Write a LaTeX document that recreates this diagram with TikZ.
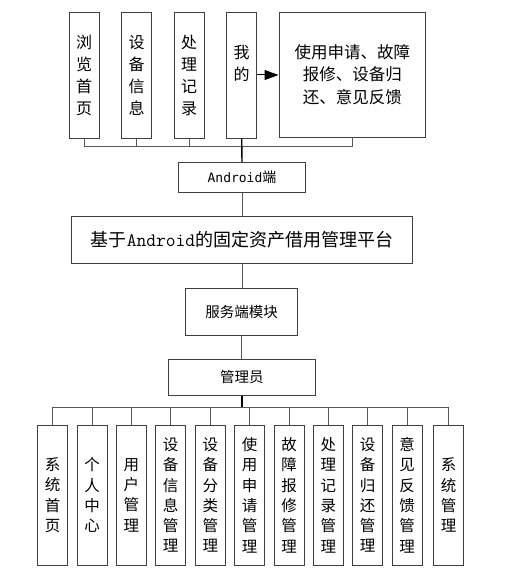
\documentclass[tikz,border=0pt]{standalone}
\usepackage{fontspec}
\setmainfont{Noto Sans CJK SC}
\newfontfamily\monoB{DejaVu Sans Mono}
\usetikzlibrary{arrows.meta}
\tikzset{
  box/.style={draw=black!75, line width=0.9pt, fill=white, inner sep=0pt, align=center},
  topv/.style={box, minimum width=30pt, minimum height=126pt, font=\fontsize{16}{22}\selectfont},
  botv/.style={box, minimum width=30pt, minimum height=139.7pt, font=\fontsize{15.5}{20.3}\selectfont},
  wire/.style={draw=black!65, line width=1pt},
  trunk/.style={draw=black, line width=1.4pt},
}
\begin{document}
\begin{tikzpicture}[x=1pt,y=-1pt]
\useasboundingbox (0,0) rectangle (518,575);
% top row
\node[topv] (b1) at (84,75) {浏\\览\\首\\页};
\node[topv] (b2) at (136.7,75) {设\\备\\信\\息};
\node[topv] (b3) at (189,75) {处\\理\\记\\录};
\node[topv] (b4) at (241.7,75) {};
\node[inner sep=0pt, align=center, font=\fontsize{16}{22}\selectfont] (b4t) at (241.7,63) {我\\的};
\node[box, minimum width=146.7pt, minimum height=125pt, font=\fontsize{16.5}{22.5}\selectfont] (b5) at (352.3,74.5) {使用申请、故障\\报修、设备归\\还、意见反馈};
\draw[line width=1pt, -{Triangle[length=14pt, width=10pt]}] (b4.east) -- (b4.east -| b5.west);
% middle column
\node[box, minimum width=127.4pt, minimum height=30pt, font=\fontsize{14}{16}\selectfont] (android) at (242,177.3) {{\monoB\fontsize{13}{16}\selectfont Android}端};
\node[box, minimum width=340.6pt, minimum height=46.6pt, font=\fontsize{18}{21}\selectfont] (plat) at (242,240) {基于{\ttfamily\fontsize{19}{21}\selectfont Android}的固定资产借用管理平台};
\node[box, minimum width=112pt, minimum height=46.7pt, font=\fontsize{14.5}{17}\selectfont] (server) at (241.7,311.7) {服务端模块};
\node[box, minimum width=146.3pt, minimum height=35.3pt, font=\fontsize{14.5}{17}\selectfont] (admin) at (241.8,377.4) {管理员};
% bottom row
\node[botv] (c1) at (52.7,495.2) {系\\统\\首\\页};
\node[botv] (c2) at (92,495.2) {个\\人\\中\\心};
\node[botv] (c3) at (131.3,495.2) {用\\户\\管\\理};
\node[botv] (c4) at (170.7,495.2) {设\\备\\信\\息\\管\\理};
\node[botv] (c5) at (210.3,495.2) {设\\备\\分\\类\\管\\理};
\node[botv] (c6) at (249.7,495.2) {使\\用\\申\\请\\管\\理};
\node[botv] (c7) at (289,495.2) {故\\障\\报\\修\\管\\理};
\node[botv] (c8) at (328.3,495.2) {处\\理\\记\\录\\管\\理};
\node[botv] (c9) at (367.7,495.2) {设\\备\\归\\还\\管\\理};
\node[botv] (c10) at (407,495.2) {意\\见\\反\\馈\\管\\理};
\node[botv] (c11) at (448.7,495.2) {系\\统\\管\\理};
% top bus
\coordinate (topbus) at (0,146);
\draw[wire] (b1.south) -- (b1.south |- topbus) -- (b5.south |- topbus) -- (b5.south);
\foreach \n in {b2,b3} \draw[wire] (\n.south) -- (\n.south |- topbus);
\draw[trunk] (b4.south) -- (android.north);
% middle links
\draw[wire] (android.south) -- (plat.north);
\draw[wire] (plat.south) -- (plat.south |- server.north);
\draw[wire] (server.south) -- (server.south |- admin.north);
% bottom bus
\coordinate (botbus) at (0,407.3);
\draw[wire] (c1.north) -- (c1.north |- botbus) -- (c11.north |- botbus) -- (c11.north);
\foreach \n in {c2,c3,c4,c5,c6,c7,c8,c9,c10} \draw[wire] (\n.north) -- (\n.north |- botbus);
\draw[trunk] (admin.south) -- (admin.south |- botbus);
\end{tikzpicture}
\end{document}
